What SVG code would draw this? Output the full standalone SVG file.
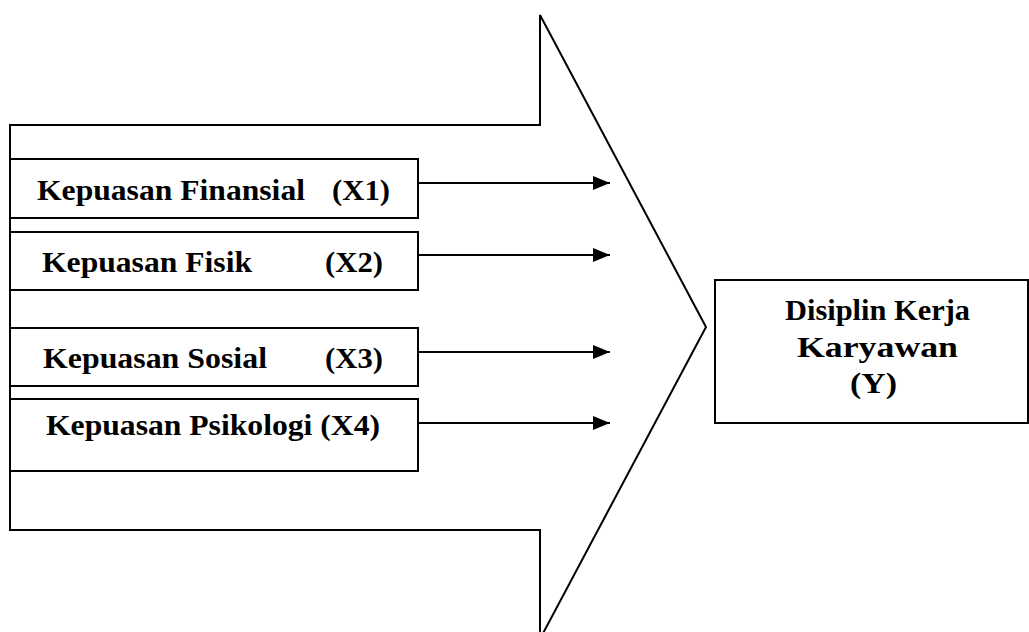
<svg xmlns="http://www.w3.org/2000/svg" width="1029" height="632" viewBox="0 0 1029 632">
<style>
.sh{fill:none;stroke:#000;stroke-width:2}
.bx{fill:#fff;stroke:#000;stroke-width:2}
.ln{stroke:#000;stroke-width:2;fill:none}
.t{font-family:"Liberation Serif","Times New Roman",serif;font-weight:bold;font-size:30px;fill:#000}
</style>
<defs>
<marker id="ah" markerWidth="17" markerHeight="14" refX="17" refY="7" orient="auto" markerUnits="userSpaceOnUse">
<path d="M0,0 L17,7 L0,14 Z" fill="#000"/>
</marker>
</defs>
<g id="bigArrow">
<path class="sh" d="M10,125 L540,125 L540,15 L706,327 L540,639 L540,530 L10,530 Z"/>
</g>
<g id="x1">
<rect class="bx" x="10" y="159" width="408" height="59"/>
<text class="t" x="37" y="200" textLength="268" lengthAdjust="spacingAndGlyphs">Kepuasan Finansial</text>
<text class="t" x="332" y="200" textLength="58" lengthAdjust="spacingAndGlyphs">(X1)</text>
</g>
<g id="x2">
<rect class="bx" x="10" y="232" width="408" height="58"/>
<text class="t" x="42" y="272" textLength="210" lengthAdjust="spacingAndGlyphs">Kepuasan Fisik</text>
<text class="t" x="325" y="272" textLength="58" lengthAdjust="spacingAndGlyphs">(X2)</text>
</g>
<g id="x3">
<rect class="bx" x="10" y="328" width="408" height="58"/>
<text class="t" x="43" y="368" textLength="224" lengthAdjust="spacingAndGlyphs">Kepuasan Sosial</text>
<text class="t" x="325" y="368" textLength="58" lengthAdjust="spacingAndGlyphs">(X3)</text>
</g>
<g id="x4">
<rect class="bx" x="10" y="399" width="408" height="72"/>
<text class="t" x="46" y="435" textLength="334" lengthAdjust="spacingAndGlyphs">Kepuasan Psikologi (X4)</text>
</g>
<g id="y">
<rect class="bx" x="715" y="280" width="313" height="143"/>
<text class="t" x="785" y="320" textLength="185" lengthAdjust="spacingAndGlyphs">Disiplin Kerja</text>
<text class="t" x="797" y="357" textLength="161" lengthAdjust="spacingAndGlyphs">Karyawan</text>
<text class="t" x="850" y="393" textLength="47" lengthAdjust="spacingAndGlyphs">(Y)</text>
</g>
<g id="connectors">
<line class="ln" x1="418" y1="183" x2="610" y2="183" marker-end="url(#ah)"/>
<line class="ln" x1="418" y1="255" x2="610" y2="255" marker-end="url(#ah)"/>
<line class="ln" x1="418" y1="352" x2="610" y2="352" marker-end="url(#ah)"/>
<line class="ln" x1="418" y1="423" x2="610" y2="423" marker-end="url(#ah)"/>
</g>
</svg>
